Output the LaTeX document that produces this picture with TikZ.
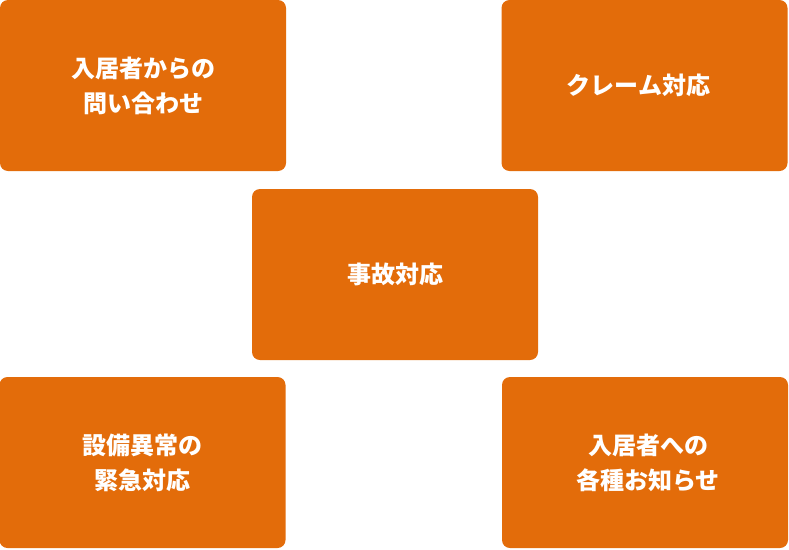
\documentclass[tikz,border=0pt]{standalone}
\usepackage{fontspec}
\newfontfamily\cjk{Noto Sans CJK JP}
\definecolor{boxorange}{HTML}{E36C0A}
\tikzset{
  card/.style={fill=boxorange, draw=none, rounded corners=8pt, minimum width=286pt, minimum height=171pt, inner sep=0pt},
  cardtext/.style={text=white, align=center, inner sep=0pt, font=\cjk\bfseries\fontsize{24pt}{35pt}\selectfont}
}
\begin{document}
\begin{tikzpicture}[x=1pt,y=-1pt]
\useasboundingbox (0,0) rectangle (789,549);
\node[card] (inq) at (143,85.5) {};
\node[card] (claim) at (644.5,85.5) {};
\node[card] (acc) at (395,274.5) {};
\node[card] (equip) at (142.5,462.5) {};
\node[card] (notice) at (645,462.5) {};
\node[cardtext] (inqt) at (inq) {入居者からの\\問い合わせ};
\node[cardtext] (claimt) at ([xshift=-6pt]claim.center) {クレーム対応};
\node[cardtext] (acct) at (acc) {事故対応};
\node[cardtext] (equipt) at (equip) {設備異常の\\緊急対応};
\node[cardtext] (noticet) at ([xshift=3pt]notice.center) {入居者への\\各種お知らせ};
\end{tikzpicture}
\end{document}
